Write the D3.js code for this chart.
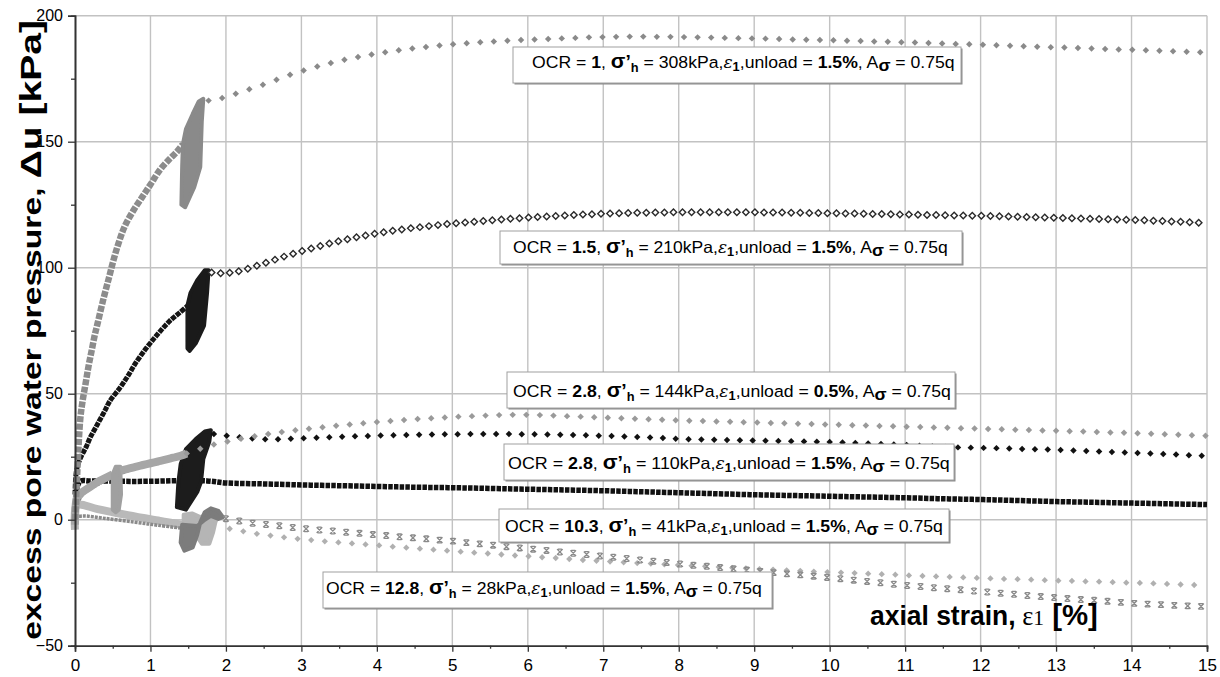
<!DOCTYPE html>
<html>
<head>
<meta charset="utf-8">
<script src="https://cdn.jsdelivr.net/npm/d3@7"></script>
<style>
  body { margin: 0; background: #fff; }
  svg { display: block; font-family: "Liberation Sans", Arial, sans-serif; }
</style>
</head>
<body>
<svg id="chart" width="1220" height="677"></svg>
<script>
// ---------- axis ticks ----------
const xMajorTicks = [0,1,2,3,4,5,6,7,8,9,10,11,12,13,14,15];
const xMinorTicks = [0.5,1.5,2.5,3.5,4.5,5.5,6.5,7.5,8.5,9.5,10.5,11.5,12.5,13.5,14.5];
const yMajorTicks = [-50,0,50,100,150,200];
const yMinorTicks = [-25,25,75,125,175];
const xGridLines = [1,2,3,4,5,6,7,8,9,10,11,12,13,14,15];
const yGridLines = [0,50,100,150,200];

// ---------- annotation texts ----------
const labelOCR = ["1","1.5","2.8","2.8","10.3","12.8"];
const labelSigmaH = ["308","210","144","110","41","28"];
const labelUnload = ["1.5","1.5","0.5","1.5","1.5","1.5"];

// ---------- OCR = 1 (grey diamonds) ----------
const ocr1Load = [[0,0],[0.02,12],[0.04,25],[0.07,40],[0.1,47],[0.14,54],[0.18,61],[0.22,67],[0.26,73],[0.3,78],[0.38,88],[0.45,96],[0.51,103],[0.58,110],[0.66,116.5],[0.77,122.5],[0.89,128],[1.0,133],[1.13,139],[1.25,143],[1.35,146],[1.43,149]];
const ocr1Cycles = [[1.41,125],[1.42,140],[1.43,149],[1.47,155],[1.56,161],[1.64,166],[1.7,167],[1.68,158],[1.66,140],[1.58,132],[1.46,124]];
const ocr1PostStart = 1.77, ocr1PostStep = 0.18;
const ocr1Post = [166.3,167.3,169.0,170.8,172.6,174.6,176.6,178.3,179.8,181.2,182.5,183.6,184.6,185.5,186.3,187.0,187.6,188.2,188.7,189.1,189.5,189.8,190.1,190.4,190.6,190.8,191.0,191.2,191.4,191.5,191.6,191.7,191.7,191.6,191.6,191.5,191.4,191.3,191.2,191.1,191.0,190.9,190.8,190.6,190.5,190.4,190.3,190.1,190.0,189.8,189.7,189.5,189.4,189.2,189.0,188.8,188.7,188.5,188.3,188.1,187.9,187.7,187.5,187.4,187.2,187.0,186.8,186.6,186.5,186.3,186.1,185.9,185.7,185.5];

// ---------- OCR = 1.5 (open dark diamonds) ----------
const ocr15Load = [[0,10],[0.01,17],[0.03,21],[0.08,25],[0.15,29],[0.2,32.5],[0.3,38],[0.4,43.5],[0.46,47],[0.6,52.5],[0.7,57],[0.8,62],[0.93,67.5],[1.05,72],[1.15,75.5],[1.26,79],[1.38,82],[1.5,85]];
const ocr15Cycles = [[1.49,68],[1.49,85],[1.53,90],[1.62,95],[1.72,99],[1.77,99],[1.75,90],[1.71,77],[1.6,70],[1.52,67]];
const ocr15PostStart = 1.81, ocr15PostStep = 0.12;
const ocr15Post = [98.1,97.8,98.0,98.6,99.6,100.8,102.0,103.2,104.4,105.5,106.6,107.6,108.6,109.6,110.5,111.3,112.1,112.8,113.5,114.1,114.7,115.2,115.7,116.1,116.5,116.9,117.3,117.6,117.9,118.2,118.5,118.8,119.1,119.4,119.6,119.9,120.1,120.3,120.5,120.7,120.9,121.1,121.2,121.4,121.5,121.6,121.7,121.8,121.8,121.9,121.9,122.0,122.0,122.0,122.0,122.0,122.0,122.0,122.0,122.0,122.0,121.9,121.9,121.9,121.8,121.8,121.7,121.7,121.6,121.6,121.5,121.5,121.4,121.3,121.3,121.2,121.1,121.1,121.0,120.9,120.9,120.8,120.7,120.7,120.6,120.6,120.5,120.4,120.3,120.2,120.1,120.0,119.9,119.8,119.7,119.6,119.5,119.4,119.3,119.2,119.1,119.0,118.9,118.8,118.6,118.5,118.3,118.2,118.0,117.8];

// ---------- OCR = 2.8, 144 kPa (light grey diamonds, unload at 0.5 %) ----------
const ocr28aLoad = [[0,-2],[0.01,6],[0.03,9],[0.1,11],[0.2,13],[0.3,15],[0.4,16.5],[0.5,18]];
const ocr28aCycles = [[0.5,4],[0.5,18],[0.54,21],[0.6,21],[0.61,10],[0.58,4],[0.54,3]];
const ocr28aReload = [[0.6,19.5],[0.7,20.2],[0.8,21],[0.9,21.7],[1.0,22.4],[1.1,23.1],[1.2,23.8],[1.3,24.6],[1.4,25.4],[1.48,26.3]];
const ocr28aPostStart = 1.48, ocr28aPostStep = 0.18;
const ocr28aPost = [26.3,28.2,29.8,31.0,32.1,33.1,34.0,34.8,35.5,36.1,36.7,37.3,37.8,38.3,38.8,39.2,39.6,40.0,40.3,40.6,40.9,41.1,41.3,41.5,41.6,41.6,41.5,41.3,41.1,40.9,40.7,40.5,40.3,40.1,39.9,39.7,39.5,39.3,39.2,39.0,38.9,38.7,38.6,38.4,38.3,38.1,38.0,37.8,37.7,37.5,37.4,37.2,37.1,36.9,36.8,36.6,36.5,36.3,36.2,36.0,35.9,35.7,35.6,35.4,35.3,35.1,35.0,34.8,34.6,34.5,34.3,34.1,33.9,33.7,33.5,33.3];

// ---------- OCR = 2.8, 110 kPa (black diamonds) ----------
const ocr28bLoad = [[0,0],[0.03,6],[0.1,10],[0.3,14],[0.5,17],[0.7,19.5],[0.9,21.5],[1.1,23.3],[1.3,25],[1.38,26]];
const ocr28bCycles = [[1.35,5],[1.37,15],[1.4,22],[1.47,28],[1.6,32],[1.72,35],[1.8,35.5],[1.78,31],[1.7,24],[1.67,15],[1.62,11],[1.47,4]];
const ocr28bPostStart = 1.84, ocr28bPostStep = 0.17;
const ocr28bPost = [34.0,33.3,32.7,32.2,31.9,31.9,32.1,32.3,32.5,32.7,32.9,33.1,33.2,33.4,33.5,33.6,33.7,33.8,33.9,33.9,34.0,34.0,34.0,34.0,33.9,33.9,33.8,33.7,33.6,33.5,33.3,33.2,33.0,32.8,32.6,32.4,32.1,31.9,31.8,31.7,31.6,31.5,31.4,31.3,31.2,31.1,31.0,30.9,30.8,30.6,30.4,30.2,30.0,29.8,29.6,29.3,29.1,28.9,28.7,28.6,28.5,28.4,28.3,28.1,28.0,27.9,27.7,27.5,27.3,27.1,26.9,26.7,26.5,26.3,26.1,25.9,25.6,25.4];

// ---------- OCR = 10.3 (dense black chain) ----------
const ocr103Path = [[0,0],[0.01,7],[0.03,13],[0.07,15.3],[0.2,15.4],[0.5,15.3],[0.8,15.2],[1.1,15.3],[1.4,15.5],[1.75,15.4],[2,14.6],[2.5,14.2],[3,13.8],[3.5,13.5],[4,13.2],[4.5,12.9],[5,12.7],[5.5,12.4],[6,12.1],[6.5,11.8],[7,11.5],[7.5,11.1],[8,10.7],[8.5,10.3],[9,9.9],[9.5,9.6],[10,9.3],[10.5,9.0],[11,8.7],[11.5,8.3],[12,8.0],[12.5,7.6],[13,7.2],[13.5,6.9],[14,6.6],[14.5,6.3],[15,6.0]];

// ---------- crosses series ----------
const crossLoad = [[0,1],[0.1,1.5],[0.4,0.5],[0.8,-1],[1.1,-2.2],[1.45,-3.5]];
const crossCycles = [[1.42,-2],[1.4,-9],[1.45,-12.3],[1.56,-11],[1.62,-6],[1.66,-1],[1.72,3],[1.8,4.5],[1.9,3.5],[1.96,1],[1.9,0.3],[1.8,1.5],[1.72,0],[1.62,-2.5]];
const crossPostStart = 2.0, crossPostStep = 0.177;
const crossPost = [0.4,-0.5,-1.4,-1.9,-2.4,-3.1,-3.6,-4.1,-4.5,-5.0,-5.4,-5.9,-6.3,-6.8,-7.2,-7.6,-8.1,-8.5,-9.1,-9.6,-10.1,-10.7,-11.2,-11.7,-12.2,-12.8,-13.3,-13.8,-14.4,-14.9,-15.4,-16.0,-16.5,-17.0,-17.6,-18.1,-18.5,-19.0,-19.5,-20.0,-20.5,-21.0,-21.5,-21.9,-22.4,-22.9,-23.4,-24.0,-24.5,-25.0,-25.6,-26.1,-26.5,-27.0,-27.4,-27.8,-28.3,-28.7,-29.2,-29.6,-30.1,-30.5,-30.9,-31.3,-31.7,-32.0,-32.4,-32.8,-33.2,-33.5,-33.7,-34.0,-34.2,-34.4];

// ---------- OCR = 12.8 (pale grey diamonds) ----------
const ocr128Load = [[0,-4],[0.01,5],[0.05,6],[0.3,4.2],[0.7,1.8],[1.1,-0.3],[1.5,-2.3],[1.62,-2.8]];
const ocr128Cycles = [[1.44,2],[1.44,-7.5],[1.5,-8.5],[1.6,-6],[1.68,-9.5],[1.78,-9.5],[1.83,-5],[1.86,-1],[1.9,2],[1.8,2.5],[1.66,1],[1.55,2.5]];
const ocr128PostStart = 2.05, ocr128PostStep = 0.18;
const ocr128Post = [-3.6,-4.6,-5.6,-6.3,-7.0,-7.6,-8.1,-8.6,-9.0,-9.4,-9.8,-10.2,-10.7,-11.1,-11.5,-11.9,-12.3,-12.7,-13.1,-13.4,-13.8,-14.2,-14.5,-14.9,-15.2,-15.6,-16.0,-16.3,-16.6,-16.9,-17.2,-17.4,-17.7,-18.0,-18.3,-18.5,-18.8,-19.1,-19.3,-19.6,-19.8,-20.1,-20.3,-20.6,-20.8,-21.0,-21.2,-21.4,-21.6,-21.8,-22.1,-22.3,-22.5,-22.7,-22.9,-23.1,-23.3,-23.5,-23.6,-23.8,-24.0,-24.2,-24.3,-24.5,-24.6,-24.8,-25.0,-25.1,-25.3,-25.5,-25.7,-25.9];

// ---------- layout ----------
const svg = d3.select("#chart");
const x = d3.scaleLinear().domain([0, 15]).range([75, 1207]);
const y = d3.scaleLinear().domain([-50, 200]).range([645.7, 15.7]);

// pairs [x, y] for evenly sampled strain readings
const sampled = (x0, step, ys) => ys.map((v, i) => [x0 + i * step, v]);

// gridlines
const grid = svg.append("g");
grid.selectAll("line.v").data(xGridLines).join("line")
  .attr("x1", d => x(d)).attr("x2", d => x(d))
  .attr("y1", y(-50)).attr("y2", y(200))
  .attr("stroke", "#c2c2c2").attr("stroke-width", 1.4);
grid.selectAll("line.h").data(yGridLines).join("line")
  .attr("x1", x(0)).attr("x2", x(15))
  .attr("y1", d => y(d)).attr("y2", d => y(d))
  .attr("stroke", "#c2c2c2").attr("stroke-width", 1.4);

const plot = svg.append("g");
const smooth = d3.line().x(d => x(d[0])).y(d => y(d[1])).curve(d3.curveCatmullRom.alpha(0.5));
const straight = d3.line().x(d => x(d[0])).y(d => y(d[1]));

// densely logged stretches read as a bead chain
function chain(pts, color, width, dash) {
  plot.append("path").attr("d", smooth(pts))
    .attr("fill", "none").attr("stroke", color).attr("stroke-width", width)
    .attr("stroke-linecap", "butt").attr("stroke-linejoin", "round")
    .attr("stroke-dasharray", dash || null);
}
// overlapping unload-reload cycles form a solid band
function cycles(pts, color) {
  plot.append("path").attr("d", straight(pts) + "Z")
    .attr("fill", color).attr("stroke", color).attr("stroke-width", 4)
    .attr("stroke-linejoin", "round");
}
const diamond = d3.symbol().type(d3.symbolSquare);
function diamonds(pts, size, fill, stroke, sw) {
  plot.append("g").selectAll("path").data(pts).join("path")
    .attr("d", diamond.size(size)())
    .attr("transform", d => `translate(${x(d[0])},${y(d[1])}) rotate(45)`)
    .attr("fill", fill).attr("stroke", stroke || "none").attr("stroke-width", sw || 0);
}
const xMark = {
  draw(ctx, size) {
    const r = Math.sqrt(size) / 2;
    ctx.moveTo(-r, -r); ctx.lineTo(r, r);
    ctx.moveTo(-r, r); ctx.lineTo(r, -r);
    ctx.moveTo(-r * 0.7, -r); ctx.lineTo(r * 0.7, -r);
    ctx.moveTo(-r * 0.7, r); ctx.lineTo(r * 0.7, r);
  }
};
function crosses(pts, size, color) {
  plot.append("g").selectAll("path").data(pts).join("path")
    .attr("d", d3.symbol().type(xMark).size(size)())
    .attr("transform", d => `translate(${x(d[0])},${y(d[1])})`)
    .attr("fill", "none").attr("stroke", color).attr("stroke-width", 1.3);
}

// OCR = 12.8
chain(ocr128Load, "#b9b9b9", 8);
cycles(ocr128Cycles, "#b5b5b5");
diamonds(sampled(ocr128PostStart, ocr128PostStep, ocr128Post), 20, "#b0b0b0");
// crosses series
chain(crossLoad, "#8a8a8a", 3.5, "3 1");
cycles(crossCycles, "#7c7c7c");
crosses(sampled(crossPostStart, crossPostStep, crossPost), 32, "#8a8a8a");
// OCR = 10.3
chain(ocr103Path, "#111", 5.5, "4.5 1.2");
// OCR = 2.8, 110 kPa
chain(ocr28bLoad, "#5a5a5a", 3.5, "3 1");
cycles(ocr28bCycles, "#1c1c1c");
diamonds(sampled(ocr28bPostStart, ocr28bPostStep, ocr28bPost), 21, "#111");
// OCR = 2.8, 144 kPa
chain(ocr28aLoad, "#a6a6a6", 8);
cycles(ocr28aCycles, "#a0a0a0");
chain(ocr28aReload, "#a6a6a6", 8);
diamonds(sampled(ocr28aPostStart, ocr28aPostStep, ocr28aPost), 21, "#9a9a9a");
// OCR = 1.5
chain(ocr15Load, "#151515", 5, "5 1");
cycles(ocr15Cycles, "#1a1a1a");
diamonds(sampled(ocr15PostStart, ocr15PostStep, ocr15Post), 21, "#fff", "#2a2a2a", 1.4);
// OCR = 1
chain(ocr1Load, "#8c8c8c", 6.5, "6 1.5");
cycles(ocr1Cycles, "#8a8a8a");
diamonds(sampled(ocr1PostStart, ocr1PostStep, ocr1Post), 21, "#8a8a8a");

// ---------- annotation boxes ----------
const labelBoxes = [
  [513, 47, 961, 83], [500, 231, 962, 264], [507, 372, 955, 408],
  [504, 444, 954, 480], [499, 509, 949, 542], [323, 572, 772, 608]
];
const labelText = [
  [532, 955, 68], [513, 948, 253], [513, 951, 397],
  [508, 950, 469], [505, 943, 532], [326, 762, 594]
];
const notes = svg.append("g");
labelOCR.forEach((ocr, i) => {
  const [bx0, by0, bx1, by1] = labelBoxes[i];
  notes.append("rect").attr("x", bx0 + 1.5).attr("y", by0 + 1.5)
    .attr("width", bx1 - bx0).attr("height", by1 - by0).attr("fill", "#8a8a8a");
  notes.append("rect").attr("x", bx0).attr("y", by0)
    .attr("width", bx1 - bx0).attr("height", by1 - by0)
    .attr("fill", "#fff").attr("stroke", "#a0a0a0").attr("stroke-width", 1);
  const g = notes.append("g");
  const t = g.append("text").attr("font-size", 16.5).attr("fill", "#000");
  t.append("tspan").text("OCR = ");
  t.append("tspan").attr("font-weight", "bold").text(ocr);
  t.append("tspan").text(", ");
  t.append("tspan").attr("font-weight", "bold").attr("font-size", 20).text("σ");
  t.append("tspan").attr("font-weight", "bold").attr("font-size", 18).text("’");
  t.append("tspan").attr("font-weight", "bold").attr("font-size", 12).attr("dy", 4).text("h");
  t.append("tspan").attr("dy", -4).text(" = " + labelSigmaH[i] + "kPa,");
  t.append("tspan").attr("font-family", "DejaVu Serif").attr("font-style", "italic").attr("font-size", 16).text("ε");
  t.append("tspan").attr("font-weight", "bold").attr("font-size", 12).attr("dy", 3).text("1");
  t.append("tspan").attr("dy", -3).text(",unload = ");
  t.append("tspan").attr("font-weight", "bold").text(labelUnload[i] + "%");
  t.append("tspan").text(", A");
  t.append("tspan").attr("font-weight", "bold").attr("dy", 3).text("σ");
  t.append("tspan").attr("dy", -3).text(" = 0.75q");
  const [tx0, tx1, base] = labelText[i];
  const bb = t.node().getBBox();
  const sx = (tx1 - tx0) / bb.width;
  g.attr("transform", `translate(${tx0 - bb.x * sx},${base}) scale(${sx},1)`);
});

// ---------- axes ----------
const axisColor = "#333";
const yAxis = svg.append("g").attr("transform", `translate(${x(0)},0)`)
  .call(d3.axisLeft(y).tickValues(yMajorTicks).tickSize(7).tickPadding(5).tickFormat(d3.format("d")));
const yMinor = svg.append("g").attr("transform", `translate(${x(0)},0)`)
  .call(d3.axisLeft(y).tickValues(yMinorTicks).tickSize(4).tickFormat(""));
const xAxis = svg.append("g").attr("transform", `translate(0,${y(-50)})`)
  .call(d3.axisBottom(x).tickValues(xMajorTicks).tickSize(6).tickPadding(7).tickFormat(d3.format("d")));
const xMinor = svg.append("g").attr("transform", `translate(0,${y(-50)})`)
  .call(d3.axisBottom(x).tickValues(xMinorTicks).tickSize(3).tickFormat(""));
[yAxis, yMinor, xAxis, xMinor].forEach(a => {
  a.select(".domain").attr("stroke", axisColor).attr("stroke-width", 1.6);
  a.selectAll(".tick line").attr("stroke", axisColor).attr("stroke-width", 1.3);
  a.selectAll(".tick text").attr("fill", "#000")
    .attr("font-family", "Liberation Sans, Arial, sans-serif");
});
yAxis.selectAll(".tick text").attr("font-size", 16);
xAxis.selectAll(".tick text").attr("font-size", 17);

// axis titles
const yTitle = svg.append("g");
const yt = yTitle.append("text").attr("text-anchor", "middle").attr("font-weight", "bold")
  .attr("font-size", 25).attr("fill", "#000");
yt.append("tspan").text("excess pore water pressure,  ");
yt.append("tspan").attr("font-size", 29).text("Δu [kPa]");
const ylen = yt.node().getComputedTextLength();
yTitle.attr("transform", `translate(41,330) rotate(-90) scale(${620 / ylen},1)`);

const xTitle = svg.append("g");
const xt = xTitle.append("text").attr("font-weight", "bold").attr("font-size", 27).attr("fill", "#000");
xt.append("tspan").text("axial strain,");
xt.append("tspan").attr("font-family", "Liberation Serif, serif").attr("font-weight", "normal").attr("font-size", 27).text(" ε");
xt.append("tspan").attr("font-family", "Liberation Serif, serif").attr("font-weight", "normal").attr("font-size", 22).text("1");
xt.append("tspan").attr("font-size", 30).text(" [%]");
const xbb = xt.node().getBBox();
const xsx = 228 / xbb.width;
xTitle.attr("transform", `translate(${870 - xbb.x * xsx},625) scale(${xsx},1)`);
</script>
</body>
</html>
